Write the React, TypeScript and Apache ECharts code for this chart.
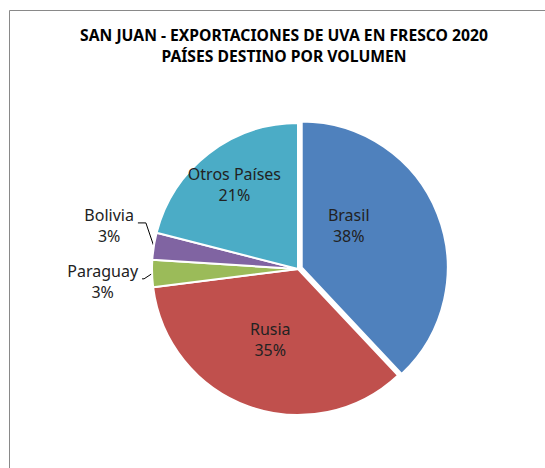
import React, { useEffect, useRef } from "react";
import * as echarts from "echarts";

const titleLines = ["SAN JUAN - EXPORTACIONES DE UVA EN FRESCO 2020", "PAÍSES DESTINO POR VOLUMEN"];
const countries = ["Brasil", "Rusia", "Paraguay", "Bolivia", "Otros Países"];
const shares = [38, 35, 3, 3, 21];
const colors = ["#4F81BD", "#C0504D", "#9BBB59", "#8064A2", "#4BACC6"];
const insideFlags = [true, true, false, false, true];
const labelOffsets: number[][] = [[-26, -22], [-2, -1], [0, 0], [0, 0], [-17, -24]];
const outsideShiftX = [0, 0, 4, -2, 0];
const outsideShiftY = [0, 0, 8, -19, 0];
const lineShiftY = [0, 0, 5, -22, 0];

const FONT = "'Noto Sans', 'Open Sans', sans-serif";

export default function App() {
  const ref = useRef<HTMLDivElement>(null);
  useEffect(() => {
    if (!ref.current) return;
    const chart = echarts.init(ref.current, null, { renderer: "svg" });
    const data = countries.map((name, i) => {
      const lbl = insideFlags[i]
        ? { position: "inside", offset: labelOffsets[i] }
        : { position: "outside" };
      return {
        name,
        value: shares[i],
        selected: i === 0,
        itemStyle: { color: colors[i] },
        label: lbl,
        select: { label: lbl, itemStyle: { color: colors[i] } },
        labelLine: { show: !insideFlags[i] },
      };
    });
    chart.setOption({
      animation: false,
      title: {
        text: titleLines.join("\n"),
        left: 279,
        top: 19,
        textAlign: "center",
        textStyle: {
          fontFamily: FONT,
          fontWeight: "bold",
          fontSize: 15.7,
          lineHeight: 21,
          color: "#000",
        },
      },
      graphic: [
        {
          type: "rect",
          shape: { x: 9.5, y: 10.5, width: 600, height: 500 },
          style: { fill: "none", stroke: "#898989", lineWidth: 1 },
          silent: true,
        },
      ],
      series: [
        {
          type: "pie",
          center: [298, 269],
          radius: 146,
          startAngle: 90,
          clockwise: true,
          selectedMode: "single",
          selectedOffset: 4,
          avoidLabelOverlap: false,
          itemStyle: { borderColor: "#fff", borderWidth: 2 },
          emphasis: { disabled: true },
          label: {
            fontFamily: FONT,
            fontSize: 16,
            color: "#222",
            distanceToLabelLine: 4,
            formatter: (p: any) => `{c|${p.name}}\n{c|${p.value}%}`,
            rich: {
              c: { align: "center", fontFamily: FONT, fontSize: 16, lineHeight: 21, color: "#222" },
            },
          },
          labelLine: {
            length: 8,
            length2: 6,
            lineStyle: { color: "#000", width: 1 },
          },
          labelLayout: (p: any) => {
            const i = p.dataIndex;
            const out: any = { hideOverlap: false };
            if (!insideFlags[i]) {
              out.dx = outsideShiftX[i];
              out.dy = outsideShiftY[i];
              const pts = p.labelLinePoints;
              if (pts && pts.length === 3) {
                out.labelLinePoints = [
                  [pts[0][0], pts[0][1]],
                  [pts[1][0], pts[1][1] + lineShiftY[i]],
                  [pts[2][0] + outsideShiftX[i], pts[2][1] + lineShiftY[i]],
                ];
              }
            }
            return out;
          },
          data,
        },
      ],
    });
    return () => chart.dispose();
  }, []);
  return (
    <div
      ref={ref}
      style={{ position: "fixed", left: 0, top: 0, width: 545, height: 468, background: "#fff" }}
    />
  );
}
